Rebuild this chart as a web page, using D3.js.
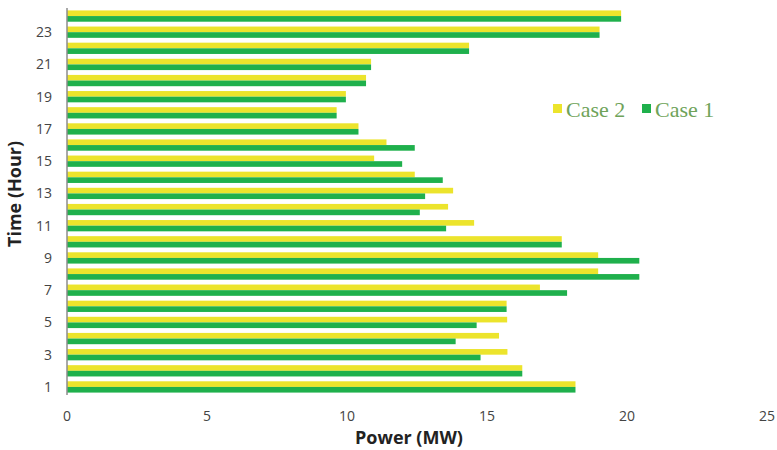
<!DOCTYPE html>
<html><head><meta charset="utf-8">
<script src="https://cdn.jsdelivr.net/npm/d3@7"></script>
<style>body{margin:0;background:#fff}svg{display:block}</style>
</head><body>
<svg id="c" width="777" height="450"></svg>
<script>
const hours = d3.range(1, 25);
const case1 = [18.16,16.26,14.77,13.88,14.63,15.70,17.86,20.44,20.44,17.67,13.54,12.60,12.79,13.42,11.97,12.42,10.41,9.63,9.96,10.68,10.86,14.36,19.02,19.79];
const case2 = [18.16,16.26,15.73,15.43,15.72,15.70,16.89,18.97,18.97,17.67,14.54,13.61,13.79,12.42,10.97,11.41,10.41,9.63,9.96,10.68,10.86,14.36,19.02,19.79];
const xTicks = [0,5,10,15,20,25];
const yTicks = [1,3,5,7,9,11,13,15,17,19,21,23];
const seriesNames = ["Case 2","Case 1"];
const colors = {"Case 2":"#ece42c","Case 1":"#1fb04c"};

const svg = d3.select("#c");
const x = d3.scaleLinear().domain([0,25]).range([67,767]);
const y = d3.scaleBand().domain(hours.slice().reverse()).range([8,395]).paddingInner(0.3).paddingOuter(0.15);
const sub = d3.scaleBand().domain(seriesNames).range([0,y.bandwidth()]);

const data = hours.map((h,i)=>({h, "Case 1":case1[i], "Case 2":case2[i]}));
const g = svg.append("g");
data.forEach(d=>{
  seriesNames.forEach(s=>{
    g.append("rect")
      .attr("x", x(0))
      .attr("y", y(d.h)+sub(s))
      .attr("width", x(d[s])-x(0))
      .attr("height", sub.bandwidth())
      .attr("fill", colors[s]);
  });
});

// y axis line
svg.append("line").attr("x1",x(0)).attr("x2",x(0)).attr("y1",8).attr("y2",395)
  .attr("stroke","#8c8c8c").attr("stroke-width",1.5);

// y tick labels
svg.append("g").selectAll("text").data(yTicks).join("text")
  .attr("x",52).attr("y",d=>y(d)+y.bandwidth()/2)
  .attr("dy","0.36em").attr("text-anchor","end")
  .attr("font-family","Open Sans, sans-serif").attr("font-size",14).attr("fill","#444")
  .text(d=>d);

// x tick labels
svg.append("g").selectAll("text").data(xTicks).join("text")
  .attr("x",d=>x(d)).attr("y",421).attr("text-anchor","middle")
  .attr("font-family","Open Sans, sans-serif").attr("font-size",14).attr("fill","#444")
  .text(d=>d);

// axis titles
svg.append("text").attr("x",409).attr("y",444).attr("text-anchor","middle")
  .attr("font-family","Open Sans, sans-serif").attr("font-weight","bold").attr("font-size",18).attr("fill","#222")
  .text("Power (MW)");
svg.append("text").attr("transform","translate(21,194) rotate(-90)").attr("text-anchor","middle")
  .attr("font-family","Open Sans, sans-serif").attr("font-weight","bold").attr("font-size",18).attr("fill","#222")
  .text("Time (Hour)");

// legend
const leg = svg.append("g");
const legX = [553, 642];
seriesNames.forEach((s,i)=>{
  leg.append("rect").attr("x",legX[i]).attr("y",104).attr("width",9).attr("height",9).attr("fill",colors[s]);
  leg.append("text").attr("x",legX[i]+13).attr("y",117)
    .attr("font-family","Liberation Serif, serif").attr("font-size",22).attr("fill","#6fa35a")
    .text(s);
});
</script>
</body></html>
